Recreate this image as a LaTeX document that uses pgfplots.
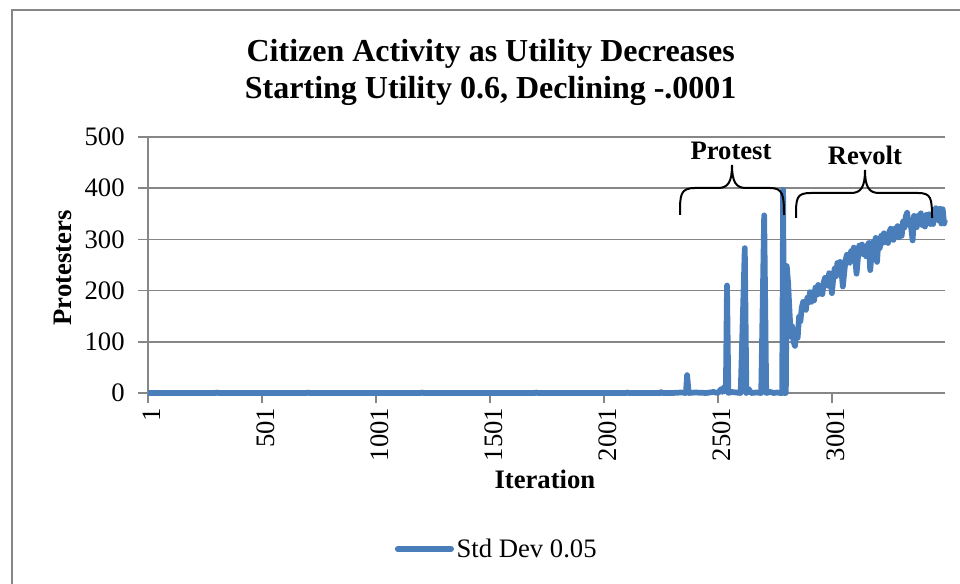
\documentclass[border=0pt]{standalone}
\usepackage{fontspec}
\setmainfont{Liberation Serif}
\usepackage{pgfplots}
\pgfplotsset{compat=1.18}
\definecolor{ser}{RGB}{74,126,187}
\definecolor{gr}{RGB}{134,134,134}
\begin{document}
\begin{tikzpicture}
\useasboundingbox (0pt,0pt) rectangle (720pt,-438pt);
\draw[gr, line width=1.5pt] (9pt,-438pt) -- (9pt,-7.5pt) -- (720pt,-7.5pt);
\begin{axis}[
  at={(111pt,-294.75pt)}, anchor=south west,
  width=597.75pt, height=192pt, scale only axis,
  xmin=1, xmax=3496, ymin=0, ymax=500,
  axis lines=left, axis line style={-, gr, line width=1.2pt},
  ymajorgrids, grid style={gr, line width=1.2pt},
  ytick={0,100,200,300,400,500},
  xtick={1,501,1001,1501,2001,2501,3001},
  xticklabels={1,501,1001,1501,2001,2501,3001},
  scaled x ticks=false, scaled y ticks=false,
  tick align=outside, major tick length=7.5pt,
  tick style={gr, line width=1.2pt},
  /pgf/number format/assume math mode=true,
  ticklabel style={font=\fontsize{20}{24}\selectfont},
  yticklabel style={xshift=-6.5pt},
  xticklabel style={rotate=90, anchor=east, yshift=-3pt},
  clip=false,
  title={Citizen Activity as Utility Decreases\\Starting Utility 0.6, Declining -.0001},
  title style={at={(axis description cs:0.430,1.221)}, anchor=center, align=center, font=\fontsize{24}{27.75}\selectfont\bfseries},
  xlabel={Iteration}, ylabel={Protesters},
  every axis x label/.style={at={(axis description cs:0.498,-0.336)}, anchor=center, font=\fontsize{20}{24}\selectfont\bfseries},
  every axis y label/.style={at={(axis description cs:-0.1066,0.488)}, anchor=center, rotate=90, font=\fontsize{20}{24}\selectfont\bfseries},
  legend style={at={(axis description cs:0.438,-0.609)}, anchor=center, draw=none, font=\fontsize{20}{24}\selectfont},
  legend image code/.code={\draw[#1, line cap=round] (0pt,0pt) -- (40pt,0pt);},
]
\addplot[ser, line width=4.3pt, line join=round] coordinates {
(1,0) (300,0) (301,1) (310,0) (700,0) (701,1) (710,0) (1200,0) (1201,1) (1210,0)
(1700,0) (1701,1) (1710,0) (2100,0) (2101,1) (2110,0) (2250,0) (2251,2) (2258,0)
(2300,0) (2340,1) (2360,0) (2365,35) (2372,0) (2400,1) (2450,0) (2480,2) (2500,0)
(2515,8) (2520,2) (2528,12) (2535,3) (2540,210) (2546,0) (2560,2) (2580,1) (2600,0)
(2618,283) (2625,0) (2635,8) (2645,0) (2670,1) (2690,0) (2703,347) (2712,0) (2730,2)
(2745,0) (2760,1) (2775,0) (2782,0) (2786,397) (2791,0) (2798,0) (2802,248)
(2808,215) (2814,160) (2820,110) (2826,130) (2832,100) (2838,92) (2844,118) (2850,108)
(2856,149) (2862,140) (2868,167) (2874,178) (2880,164) (2886,162) (2892,186) (2898,177)
(2904,197) (2910,178) (2916,197) (2922,181) (2928,206) (2934,192) (2940,211) (2946,194)
(2952,207) (2958,193) (2964,216) (2970,225) (2976,211) (2982,209) (2988,234) (2994,224)
(3000,195) (3006,224) (3012,243) (3018,228) (3024,254) (3030,238) (3036,256) (3042,237)
(3048,208) (3054,235) (3060,260) (3066,270) (3072,256) (3078,254) (3084,277) (3090,266)
(3096,284) (3102,263) (3108,233) (3114,263) (3120,288) (3126,273) (3132,290) (3138,271)
(3144,283) (3150,267) (3156,288) (3162,293) (3168,240) (3174,271) (3180,295) (3186,284)
(3192,303) (3198,256) (3204,299) (3210,283) (3216,307) (3222,293) (3228,312) (3234,295)
(3240,307) (3246,293) (3252,315) (3258,321) (3264,304) (3270,299) (3276,321) (3282,309)
(3288,326) (3294,304) (3300,321) (3306,307) (3312,335) (3318,323) (3324,345) (3330,352)
(3336,329) (3342,338) (3348,321) (3354,298) (3360,346) (3366,329) (3372,324) (3378,346)
(3384,334) (3390,351) (3396,328) (3402,343) (3408,325) (3414,348) (3420,332) (3426,349)
(3432,330) (3438,344) (3444,330) (3450,354) (3456,361) (3462,345) (3468,337) (3474,360)
(3480,331) (3486,359) (3492,331) (3496,338)
};
\addlegendentry{Std Dev 0.05}
\end{axis}
\begin{scope}[x=0.75pt,y=-0.75pt, line width=1.5pt]
\draw (680,215) .. controls (680,195) and (680,188) .. (695,188) -- (718,188)
  .. controls (728,188) and (732,182) .. (732,165)
  .. controls (732,182) and (736,188) .. (746,188) -- (770,188)
  .. controls (783,188) and (784,195) .. (784,215);
\draw (796,218) .. controls (796,198) and (796,193) .. (811,193) -- (851,193)
  .. controls (861,193) and (865,187) .. (865,170)
  .. controls (865,187) and (869,193) .. (879,193) -- (918,193)
  .. controls (931,193) and (932,198) .. (932,218);
\node[font=\fontsize{20}{24}\selectfont\bfseries] at (731,151) {Protest};
\node[font=\fontsize{20}{24}\selectfont\bfseries] at (865,155) {Revolt};
\end{scope}
\end{tikzpicture}
\end{document}
